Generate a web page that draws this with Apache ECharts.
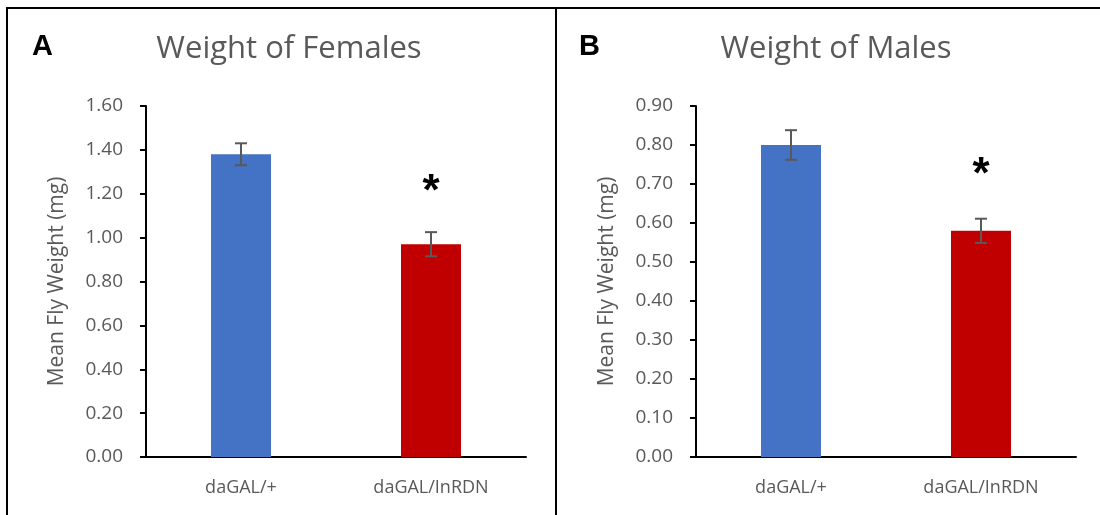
<!DOCTYPE html>
<html>
<head>
<meta charset="utf-8">
<script src="https://cdn.jsdelivr.net/npm/echarts@6/dist/echarts.min.js"></script>
<style>
html,body{margin:0;padding:0;background:#fff;}
#c{width:1100px;height:515px;}
</style>
</head>
<body>
<div id="c"></div>
<script>
var categories = ['daGAL/+', 'daGAL/InRDN'];
var femaleMeans = [1.38, 0.97];
var femaleErr = [0.05, 0.055];
var maleMeans = [0.80, 0.58];
var maleErr = [0.038, 0.031];
var barColors = ['#4472C4', '#C00000'];
var femaleTicks = [0, 1.6, 0.2];
var maleTicks = [0, 0.9, 0.1];
// significance marker positions (value coordinate of the asterisk)
var femaleSig = [null, 1.205];
var maleSig = [null, 0.72];

var chart = echarts.init(document.getElementById('c'));
var textGray = '#595959';
var FONT = 'Open Sans';

function yAx(idx, t) {
  return {
    type: 'value', gridIndex: idx, min: t[0], max: t[1], interval: t[2],
    name: 'Mean Fly Weight (mg)', nameLocation: 'middle', nameGap: 78,
    nameTextStyle: {color: textGray, fontSize: 21, fontFamily: FONT},
    axisLine: {show: true, lineStyle: {color: '#000', width: 2}},
    axisTick: {show: true, length: 6, lineStyle: {color: '#000', width: 2}},
    axisLabel: {color: textGray, fontSize: 19, fontFamily: FONT, margin: 23,
      formatter: function (v) { return v.toFixed(2); }},
    splitLine: {show: false}
  };
}
function xAx(idx) {
  return {
    type: 'category', gridIndex: idx, data: categories,
    axisLine: {show: true, lineStyle: {color: '#000', width: 2}},
    axisTick: {show: false},
    axisLabel: {color: textGray, fontSize: 18, fontFamily: FONT, margin: 22}
  };
}
function barSeries(idx, vals) {
  return {
    type: 'bar', xAxisIndex: idx, yAxisIndex: idx, barWidth: 60,
    data: vals.map(function (v, i) { return {value: v, itemStyle: {color: barColors[i]}}; }),
    silent: true
  };
}
function errSeries(idx, vals, errs) {
  return {
    type: 'custom', xAxisIndex: idx, yAxisIndex: idx, silent: true, z: 5,
    data: vals.map(function (v, i) { return [i, v - errs[i], v + errs[i]]; }),
    renderItem: function (params, api) {
      var lo = api.coord([api.value(0), api.value(1)]);
      var hi = api.coord([api.value(0), api.value(2)]);
      var w = 6;
      var st = {stroke: '#595959', lineWidth: 2};
      return {type: 'group', children: [
        {type: 'line', shape: {x1: hi[0], y1: hi[1], x2: lo[0], y2: lo[1]}, style: st},
        {type: 'line', shape: {x1: hi[0] - w, y1: hi[1], x2: hi[0] + w, y2: hi[1]}, style: st},
        {type: 'line', shape: {x1: lo[0] - w, y1: lo[1], x2: lo[0] + w, y2: lo[1]}, style: st}
      ]};
    }
  };
}
function sigSeries(idx, sig) {
  var d = [];
  sig.forEach(function (v, i) { if (v !== null) d.push([i, v]); });
  return {
    type: 'custom', xAxisIndex: idx, yAxisIndex: idx, silent: true, z: 6,
    data: d,
    renderItem: function (params, api) {
      var p = api.coord([api.value(0), api.value(1)]);
      return {type: 'text', x: p[0], y: p[1],
        style: {text: '*', fontSize: 44, fontWeight: 'bold', fontFamily: 'Liberation Sans',
          fill: '#000', align: 'center', verticalAlign: 'middle'}};
    }
  };
}

chart.setOption({
  animation: false,
  backgroundColor: '#fff',
  title: [
    {text: 'Weight of Females', left: 284, top: 29, textAlign: 'center',
      textStyle: {color: textGray, fontSize: 31, fontWeight: 'normal', fontFamily: FONT}},
    {text: 'Weight of Males', left: 831, top: 29, textAlign: 'center',
      textStyle: {color: textGray, fontSize: 31, fontWeight: 'normal', fontFamily: FONT}},
    {text: 'A', left: 27, top: 27,
      textStyle: {color: '#000', fontSize: 29, fontWeight: 'bold', fontFamily: 'Liberation Sans'}},
    {text: 'B', left: 574, top: 27,
      textStyle: {color: '#000', fontSize: 29, fontWeight: 'bold', fontFamily: 'Liberation Sans'}}
  ],
  grid: [
    {left: 146, top: 106, width: 380, height: 351},
    {left: 696, top: 106, width: 380, height: 351}
  ],
  xAxis: [xAx(0), xAx(1)],
  yAxis: [yAx(0, femaleTicks), yAx(1, maleTicks)],
  series: [
    barSeries(0, femaleMeans), errSeries(0, femaleMeans, femaleErr), sigSeries(0, femaleSig),
    barSeries(1, maleMeans), errSeries(1, maleMeans, maleErr), sigSeries(1, maleSig)
  ],
  graphic: [
    {type: 'line', shape: {x1: 6, y1: 8, x2: 1100, y2: 8}, style: {stroke: '#000', lineWidth: 2}},
    {type: 'line', shape: {x1: 7, y1: 8, x2: 7, y2: 515}, style: {stroke: '#000', lineWidth: 2}},
    {type: 'line', shape: {x1: 556, y1: 8, x2: 556, y2: 515}, style: {stroke: '#000', lineWidth: 2}}
  ]
});
</script>
</body>
</html>
